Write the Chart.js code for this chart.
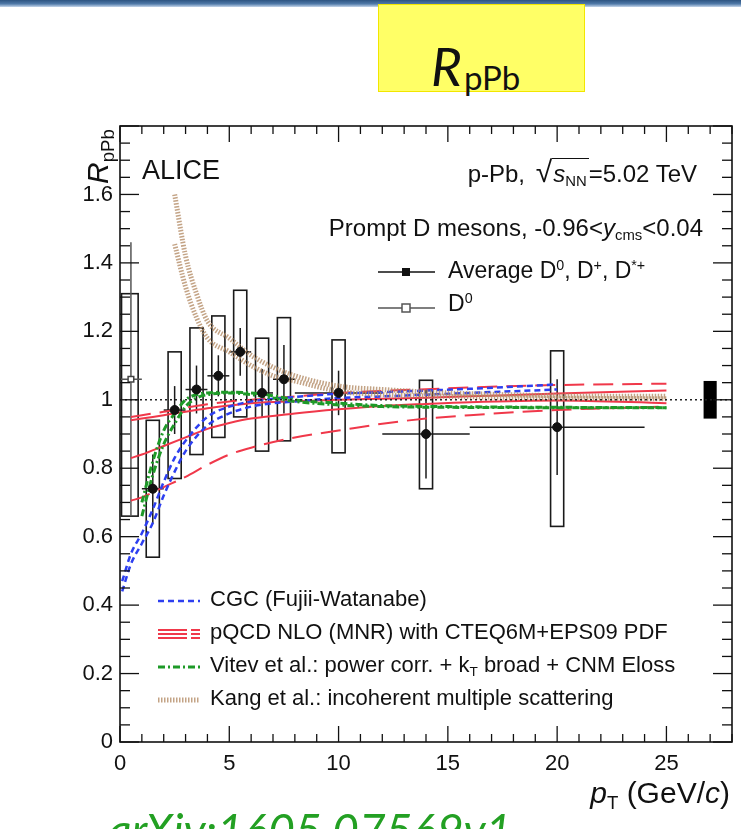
<!DOCTYPE html>
<html>
<head>
<meta charset="utf-8">
<script src="https://cdn.jsdelivr.net/npm/chart.js@4.4.1/dist/chart.umd.min.js"></script>
<style>
  html, body { margin: 0; padding: 0; background: #fff; }
  body { position: relative; width: 741px; height: 829px; overflow: hidden; font-family: "Liberation Sans", Arial, sans-serif; color: #111; }
  #topbar { position: absolute; left: 0; top: 0; width: 741px; height: 7px; background: linear-gradient(#2c5380 0%, #4f79a8 55%, #c4d5ea 100%); }
  #titlebox { position: absolute; left: 378px; top: 4px; width: 207px; height: 88px; background: #ffff66; border: 1px solid #f2e600; box-sizing: border-box; }
  .slide { position: absolute; font-family: Lato, "Open Sans", sans-serif; line-height: 1; white-space: nowrap; }
  #chart { position: absolute; left: 0; top: 0; }
  .t { position: absolute; line-height: 1; white-space: nowrap; font-size: 22px; }
  .t sub, .t sup { font-size: 0.62em; position: relative; vertical-align: baseline; }
  .t sub { top: 0.3em; }
  .t sup { top: -0.55em; }
  .rt { font-size: 1.25em; margin-left: 4px; }
  .ov { border-top: 1.5px solid #111; padding: 1px 2px 0 1px; }
  .leg { font-size: 22px; left: 210px; }
</style>
</head>
<body>
<div id="topbar"></div>
<div id="titlebox"></div>
<div class="slide" style="left:431px; top:39px; font-size:53px; font-style:italic;">R</div>
<div class="slide" style="left:464px; top:61px; font-size:33px;">pPb</div>

<canvas id="chart" width="741" height="829"></canvas>

<!-- texts inside the frame -->
<div class="t" style="left:142px; top:157px; font-size:27px;">ALICE</div>
<div class="t" style="right:44px; top:157px; font-size:24px;">p-Pb, <span class="rt">√</span><span class="ov"><i>s</i><sub>NN</sub></span>=5.02 TeV</div>
<div class="t" style="right:38px; top:216px; font-size:24px;">Prompt D mesons, -0.96&lt;<i>y</i><sub>cms</sub>&lt;0.04</div>
<div class="t" style="left:448px; top:259px; font-size:23px;">Average D<sup>0</sup>, D<sup>+</sup>, D<sup>*+</sup></div>
<div class="t" style="left:448px; top:292px; font-size:23px;">D<sup>0</sup></div>

<div class="t leg" style="top:588px;">CGC (Fujii-Watanabe)</div>
<div class="t leg" style="top:621px;">pQCD NLO (MNR) with CTEQ6M+EPS09 PDF</div>
<div class="t leg" style="top:654px;">Vitev et al.: power corr. + k<sub>T</sub> broad + CNM Eloss</div>
<div class="t leg" style="top:687px;">Kang et al.: incoherent multiple scattering</div>

<!-- axis titles -->
<div class="t" style="left:83px; top:184px; font-size:30px; transform:rotate(-90deg); transform-origin:0 0;"><i>R</i><sub>pPb</sub></div>
<div class="t" style="right:11px; top:778px; font-size:30px;"><i>p</i><sub>T</sub> (GeV/<i>c</i>)</div>

<div class="slide" style="left:108px; top:807px; font-size:46px; font-style:italic; color:#23a023;">arXiv:1605.07569v1</div>

<script>
// ---- measured points ----
// average of D0, D+, D*+ (bin centre, bin edges, value, stat, syst box)
const avgPt    = [1.5, 2.5, 3.5, 4.5, 5.5, 6.5, 7.5, 10, 14, 20];
const avgBinLo = [1, 2, 3, 4, 5, 6, 7, 8, 12, 16];
const avgBinHi = [2, 3, 4, 5, 6, 7, 8, 12, 16, 24];
const avgR     = [0.74, 0.97, 1.03, 1.07, 1.14, 1.02, 1.06, 1.02, 0.90, 0.92];
const avgStat  = [0.10, 0.07, 0.07, 0.06, 0.07, 0.07, 0.10, 0.065, 0.13, 0.14];
const avgSysLo = [0.54, 0.77, 0.84, 0.89, 0.95, 0.85, 0.88, 0.845, 0.74, 0.63];
const avgSysHi = [0.94, 1.14, 1.21, 1.245, 1.32, 1.18, 1.24, 1.175, 1.057, 1.143];

// D0 only, lowest bin
const d0Pt    = [0.5];
const d0BinLo = [0];
const d0BinHi = [1];
const d0R     = [1.06];
const d0Stat  = [0.40];
const d0SysLo = [0.66];
const d0SysHi = [1.31];

// global normalisation uncertainty
const normUnc = 0.055;

// ---- model curves ----
const cgcPt  = [0.1, 0.5, 1, 1.5, 2, 2.5, 3, 4, 5, 6, 7, 8, 10, 12, 14, 16, 18, 20];
const cgcHi  = [0.47, 0.55, 0.61, 0.68, 0.76, 0.83, 0.88, 0.95, 0.98, 0.995, 1.003, 1.008, 1.018, 1.022, 1.027, 1.032, 1.038, 1.045];
const cgcLo  = [0.44, 0.52, 0.58, 0.64, 0.72, 0.79, 0.85, 0.925, 0.96, 0.98, 0.99, 0.995, 1.005, 1.01, 1.015, 1.02, 1.025, 1.03];

const pqcdPt     = [0.5, 1, 2, 3, 4, 5, 6, 8, 10, 12, 14, 16, 20, 25];
const pqcdDashHi = [0.95, 0.955, 0.965, 0.977, 0.987, 0.995, 1.0, 1.01, 1.02, 1.026, 1.031, 1.036, 1.043, 1.047];
const pqcdSolHi  = [0.94, 0.945, 0.955, 0.965, 0.975, 0.983, 0.99, 0.996, 1.0, 1.003, 1.006, 1.01, 1.018, 1.027];
const pqcdSolLo  = [0.83, 0.84, 0.865, 0.89, 0.915, 0.932, 0.945, 0.96, 0.972, 0.982, 0.988, 0.993, 0.998, 0.99];
const pqcdDashLo = [0.705, 0.715, 0.745, 0.775, 0.81, 0.84, 0.86, 0.89, 0.91, 0.93, 0.945, 0.955, 0.97, 0.98];

const vitevPt = [1, 1.5, 2, 2.5, 3, 3.5, 4, 5, 6, 7, 8, 10, 12, 15, 20, 25];
const vitevA  = [0.66, 0.78, 0.87, 0.93, 0.98, 1.005, 1.015, 1.02, 1.015, 1.005, 0.995, 0.985, 0.98, 0.978, 0.977, 0.977];
const vitevB  = [0.70, 0.82, 0.91, 0.96, 1.0, 1.015, 1.02, 1.022, 1.02, 1.012, 1.0, 0.99, 0.983, 0.98, 0.978, 0.977];

const kangPt = [2.5, 3, 3.5, 4, 5, 6, 7, 8, 10, 12, 15, 20, 25];
const kangHi = [1.60, 1.42, 1.31, 1.23, 1.18, 1.13, 1.095, 1.07, 1.04, 1.03, 1.02, 1.012, 1.01];
const kangLo = [1.455, 1.33, 1.24, 1.18, 1.14, 1.10, 1.07, 1.055, 1.025, 1.015, 1.01, 1.005, 1.003];

// unity reference line
const unityPt = [0, 28];
const unityR  = [1, 1];

// axes
const xTickVals = [0, 5, 10, 15, 20, 25];
const yTickVals = [0, 0.2, 0.4, 0.6, 0.8, 1, 1.2, 1.4, 1.6];

// ---- styles ----
const BOX_HW = 0.3;     // half width of syst boxes in GeV/c
const STY = {
  cgc:   { color: '#2d3ff0', width: 2.5, dash: [6, 4] },
  pqcdS: { color: '#f0384a', width: 2,   dash: [] },
  pqcdD: { color: '#f0384a', width: 2,   dash: [20, 9] },
  vitev: { color: '#1e9a28', width: 3,   dash: [7, 3, 2, 3] },
  kang:  { color: 'rgba(180,140,102,0.8)', width: 5, dash: [1.5, 1.5] },
  unity: { color: '#222', width: 1.5, dash: [2, 3] }
};

Chart.defaults.font.family = '"Liberation Sans", Arial, sans-serif';
Chart.defaults.color = '#111';

function pts(xs, ys) { return xs.map((x, i) => ({ x: x, y: ys[i] })); }

function curve(xs, ys, st) {
  return {
    data: pts(xs, ys), borderColor: st.color, borderWidth: st.width, borderDash: st.dash,
    pointRadius: 0, cubicInterpolationMode: 'monotone', fill: false, borderCapStyle: 'butt'
  };
}

// syst boxes, error bars and the normalisation box, drawn under the curves
const errorBoxes = {
  id: 'errorBoxes',
  beforeDatasetsDraw(chart) {
    const { ctx, scales: { x, y } } = chart;
    const a = chart.chartArea;
    ctx.save();
    ctx.beginPath();
    ctx.rect(a.left, a.top, a.right - a.left, a.bottom - a.top);
    ctx.clip();

    ctx.strokeStyle = '#1a1a1a';
    ctx.lineWidth = 1.6;
    const box = (xc, hw, lo, hi) => {
      const x0 = x.getPixelForValue(xc - hw), x1 = x.getPixelForValue(xc + hw);
      const y0 = y.getPixelForValue(hi), y1 = y.getPixelForValue(lo);
      ctx.strokeRect(x0, y0, x1 - x0, y1 - y0);
    };
    const seg = (xa, ya, xb, yb) => {
      ctx.beginPath();
      ctx.moveTo(x.getPixelForValue(xa), y.getPixelForValue(ya));
      ctx.lineTo(x.getPixelForValue(xb), y.getPixelForValue(yb));
      ctx.stroke();
    };

    d0Pt.forEach((p, i) => box(p - 0.05, 0.38, d0SysLo[i], d0SysHi[i]));
    avgPt.forEach((p, i) => box(p, BOX_HW, avgSysLo[i], avgSysHi[i]));

    ctx.lineWidth = 1.5;
    ctx.strokeStyle = '#555';
    d0Pt.forEach((p, i) => {
      seg(d0BinLo[i], d0R[i], d0BinHi[i], d0R[i]);
      seg(p, d0R[i] - d0Stat[i], p, d0R[i] + d0Stat[i]);
    });
    ctx.strokeStyle = '#1a1a1a';
    avgPt.forEach((p, i) => {
      seg(avgBinLo[i], avgR[i], avgBinHi[i], avgR[i]);
      seg(p, avgR[i] - avgStat[i], p, avgR[i] + avgStat[i]);
    });

    // normalisation uncertainty at R = 1
    const nx0 = x.getPixelForValue(27 - BOX_HW), nx1 = x.getPixelForValue(27 + BOX_HW);
    const ny0 = y.getPixelForValue(1 + normUnc), ny1 = y.getPixelForValue(1 - normUnc);
    ctx.fillStyle = '#000';
    ctx.fillRect(nx0, ny0, nx1 - nx0, ny1 - ny0);
    ctx.restore();
  }
};

// frame with inward ticks on all sides, plus legend samples
const frame = {
  id: 'frame',
  afterDraw(chart) {
    const { ctx, scales: { x, y } } = chart;
    const a = chart.chartArea;
    ctx.save();
    ctx.strokeStyle = '#111';
    ctx.lineWidth = 1.6;
    ctx.strokeRect(a.left, a.top, a.right - a.left, a.bottom - a.top);
    ctx.lineWidth = 1.3;
    const ln = (x0, y0, x1, y1) => { ctx.beginPath(); ctx.moveTo(x0, y0); ctx.lineTo(x1, y1); ctx.stroke(); };
    for (let v = 0; v <= 28; v++) {
      const px = x.getPixelForValue(v);
      const len = v % 5 === 0 ? 16 : 8;
      ln(px, a.bottom, px, a.bottom - len);
      ln(px, a.top, px, a.top + len);
    }
    for (let k = 0; k <= 36; k++) {
      const py = y.getPixelForValue(k * 0.05);
      const len = k % 4 === 0 ? 19 : 10;
      ln(a.left, py, a.left + len, py);
      ln(a.right, py, a.right - len, py);
    }

    // legend samples for the models
    const sample = (st, x0, x1, yy) => {
      ctx.strokeStyle = st.color; ctx.lineWidth = st.width; ctx.setLineDash(st.dash);
      ln(x0, yy, x1, yy);
      ctx.setLineDash([]);
    };
    sample(STY.cgc, 158, 200, 601);
    [-4, 0, 4].forEach(d => {
      sample(STY.pqcdS, 158, 187, 634 + d);
      sample(STY.pqcdS, 191, 200, 634 + d);
    });
    sample(STY.vitev, 158, 200, 667);
    sample(STY.kang, 158, 200, 700);

    // legend samples for the data
    ctx.lineWidth = 1.5;
    ctx.strokeStyle = '#111';
    ln(378, 272, 435, 272);
    ctx.fillStyle = '#111';
    ctx.fillRect(402, 268, 8, 8);
    ctx.strokeStyle = '#555';
    ln(378, 308, 435, 308);
    ctx.fillStyle = '#fff';
    ctx.fillRect(402, 304, 8, 8);
    ctx.strokeRect(402, 304, 8, 8);
    ctx.restore();
  }
};

new Chart(document.getElementById('chart'), {
  type: 'line',
  data: {
    datasets: [
      { data: pts(avgPt, avgR), showLine: false, pointStyle: 'circle', pointRadius: 4.5,
        pointBackgroundColor: '#111', pointBorderColor: '#111' },
      { data: pts(d0Pt, d0R), showLine: false, pointStyle: 'rect', pointRadius: 4,
        pointBackgroundColor: '#fff', pointBorderColor: '#444', pointBorderWidth: 1.5 },
      curve(unityPt, unityR, STY.unity),
      curve(kangPt, kangHi, STY.kang),
      curve(kangPt, kangLo, STY.kang),
      curve(vitevPt, vitevA, STY.vitev),
      curve(vitevPt, vitevB, STY.vitev),
      curve(cgcPt, cgcHi, STY.cgc),
      curve(cgcPt, cgcLo, STY.cgc),
      curve(pqcdPt, pqcdDashHi, STY.pqcdD),
      curve(pqcdPt, pqcdSolHi, STY.pqcdS),
      curve(pqcdPt, pqcdSolLo, STY.pqcdS),
      curve(pqcdPt, pqcdDashLo, STY.pqcdD)
    ]
  },
  options: {
    responsive: false,
    animation: false,
    devicePixelRatio: 1,
    layout: { padding: { left: 0, top: 126, right: 9, bottom: 0 } },
    plugins: { legend: { display: false }, tooltip: { enabled: false } },
    scales: {
      x: {
        type: 'linear', min: 0, max: 28,
        grid: { display: false, drawTicks: false }, border: { display: false },
        ticks: { font: { size: 22 }, color: '#111', padding: 9, maxRotation: 0,
                 callback: v => String(v) },
        afterBuildTicks: s => { s.ticks = xTickVals.map(v => ({ value: v })); },
        afterFit: s => { s.height = 87; }
      },
      y: {
        type: 'linear', min: 0, max: 1.8,
        grid: { display: false, drawTicks: false }, border: { display: false },
        ticks: { font: { size: 22 }, color: '#111', padding: 7,
                 callback: v => String(Math.round(v * 10) / 10) },
        afterBuildTicks: s => { s.ticks = yTickVals.map(v => ({ value: v })); },
        afterFit: s => { s.width = 120; }
      }
    }
  },
  plugins: [errorBoxes, frame]
});
</script>
</body>
</html>
